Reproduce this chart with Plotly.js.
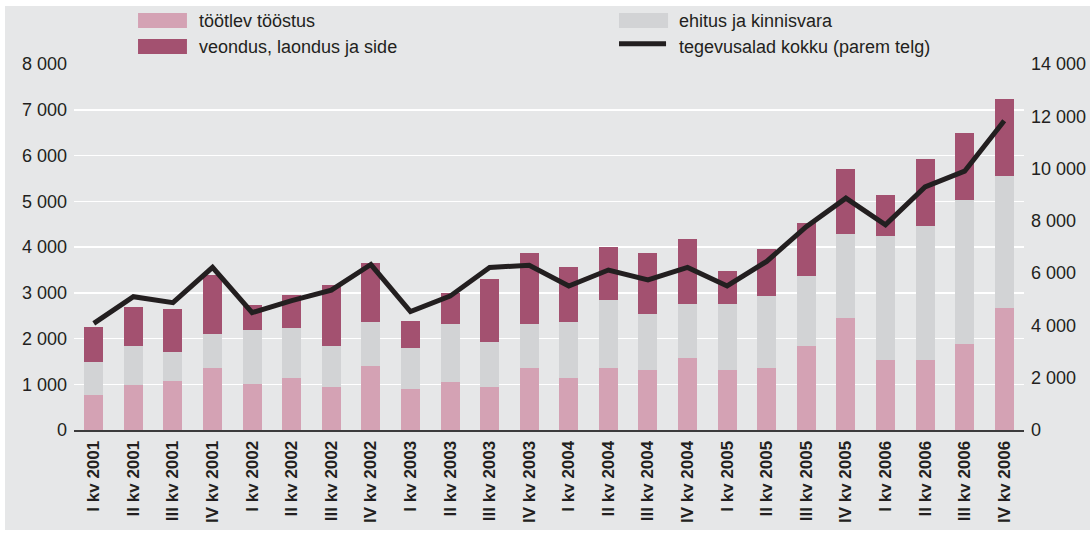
<!DOCTYPE html>
<html>
<head>
<meta charset="utf-8">
<script src="https://cdn.plot.ly/plotly-3.0.1.min.js"></script>
<style>
  html, body { margin: 0; padding: 0; background: #ffffff; overflow: hidden; }
  #chart { position: absolute; left: 5px; top: 6px; width: 1085px; height: 524px; }
</style>
</head>
<body>
<div id="chart"></div>
<script>
// Categories (quarters)
const categories = [
  'I kv 2001','II kv 2001','III kv 2001','IV kv 2001',
  'I kv 2002','II kv 2002','III kv 2002','IV kv 2002',
  'I kv 2003','II kv 2003','III kv 2003','IV kv 2003',
  'I kv 2004','II kv 2004','III kv 2004','IV kv 2004',
  'I kv 2005','II kv 2005','III kv 2005','IV kv 2005',
  'I kv 2006','II kv 2006','III kv 2006','IV kv 2006'
];

// Series names
const nameTootlev = 'töötlev tööstus';
const nameEhitus = 'ehitus ja kinnisvara';
const nameVeondus = 'veondus, laondus ja side';
const nameKokku = 'tegevusalad kokku (parem telg)';

// Stacked bar values (left axis)
const tootlev = [765, 983, 1071, 1362, 1005, 1137, 940, 1399, 896, 1049, 940, 1355,
                 1137, 1355, 1311, 1574, 1311, 1355, 1836, 2448, 1530, 1530, 1880, 2667];
const ehitus  = [721, 853, 634, 736, 1181, 1093, 896, 961, 896, 1268, 983, 962,
                 1223, 1486, 1225, 1180, 1443, 1574, 1530, 1836, 2710, 2929, 3147, 2885];
const veondus = [765, 853, 940, 1290, 546, 721, 1333, 1290, 590, 678, 1377, 1552,
                 1203, 1159, 1333, 1421, 721, 1027, 1159, 1421, 897, 1464, 1465, 1683];

// Line values (right axis)
const kokku = [4080, 5100, 4870, 6220, 4490, 4950, 5350, 6330, 4530, 5120, 6220, 6300,
               5510, 6120, 5740, 6220, 5510, 6450, 7780, 8870, 7850, 9300, 9900, 11830];

// Axis ticks
const leftTicks = [0, 1000, 2000, 3000, 4000, 5000, 6000, 7000, 8000];
const rightTicks = [0, 2000, 4000, 6000, 8000, 10000, 12000, 14000];

const cPink = '#d4a2b4';
const cGray = '#d2d3d5';
const cPurple = '#a35170';
const cLine = '#231f20';
const cBg = '#e6e7e8';
const cText = '#231f20';
const fontFam = '"Liberation Sans", Arial, Helvetica, sans-serif';
const fs = 18;
const fsX = 17;

const traces = [
  { type: 'bar', name: nameTootlev, x: categories, y: tootlev, marker: { color: cPink }, yaxis: 'y' },
  { type: 'bar', name: nameEhitus, x: categories, y: ehitus, marker: { color: cGray }, yaxis: 'y' },
  { type: 'bar', name: nameVeondus, x: categories, y: veondus, marker: { color: cPurple }, yaxis: 'y' },
  { type: 'scatter', mode: 'lines', name: nameKokku, x: categories, y: kokku, yaxis: 'y2',
    line: { color: cLine, width: 5 } }
];

// Manual legend (paper coords)
const legendRects = [
  { x0: 0.0674, x1: 0.1189, y0: 1.0984, y1: 1.1393, color: cPink },
  { x0: 0.0674, x1: 0.1189, y0: 1.0273, y1: 1.0683, color: cPurple },
  { x0: 0.5737, x1: 0.6253, y0: 1.0984, y1: 1.1393, color: cGray }
];
const shapes = legendRects.map(r => ({
  type: 'rect', xref: 'paper', yref: 'paper', x0: r.x0, x1: r.x1, y0: r.y0, y1: r.y1,
  fillcolor: r.color, line: { width: 0 }
}));
shapes.push({ type: 'line', xref: 'paper', yref: 'paper', x0: 0.5737, x1: 0.6232, y0: 1.0552, y1: 1.0552,
  line: { color: cLine, width: 5 } });

const legendTexts = [
  { text: nameTootlev, x: 0.1295, y: 1.1183 },
  { text: nameVeondus, x: 0.1295, y: 1.0478 },
  { text: nameEhitus, x: 0.6348, y: 1.1183 },
  { text: nameKokku, x: 0.6348, y: 1.0478 }
];
const annotations = legendTexts.map(t => ({
  xref: 'paper', yref: 'paper', x: t.x, y: t.y, xanchor: 'left', yanchor: 'middle',
  text: t.text, showarrow: false, font: { family: fontFam, size: fs, color: cText }
}));

const layout = {
  width: 1085, height: 524,
  paper_bgcolor: cBg, plot_bgcolor: cBg,
  margin: { l: 69, r: 66, t: 58, b: 100 },
  separators: ', ',
  barmode: 'stack',
  bargap: 0.52,
  showlegend: false,
  font: { family: fontFam, size: fs, color: cText },
  xaxis: {
    type: 'category',
    tickangle: -90,
    tickfont: { family: fontFam, size: fsX, color: cText, weight: 'bold' },
    showgrid: false,
    showline: true, linecolor: '#3c3b3c', linewidth: 2,
    ticks: '', ticklabelstandoff: 2,
    fixedrange: true
  },
  yaxis: {
    range: [0, 8000],
    tickvals: leftTicks,
    tickformat: ',d',
    showgrid: true, gridcolor: '#ffffff', gridwidth: 1.5,
    zeroline: false, showline: false, ticks: '',
    ticklabelstandoff: 6,
    tickfont: { family: fontFam, size: fs, color: cText }
  },
  yaxis2: {
    overlaying: 'y', side: 'right',
    range: [0, 14000],
    tickvals: rightTicks,
    tickformat: ',d',
    showgrid: false, zeroline: false, showline: false, ticks: '',
    ticklabelstandoff: 6,
    tickfont: { family: fontFam, size: fs, color: cText }
  },
  shapes: shapes,
  annotations: annotations
};

Plotly.newPlot('chart', traces, layout, { staticPlot: true, displayModeBar: false });
</script>
</body>
</html>
